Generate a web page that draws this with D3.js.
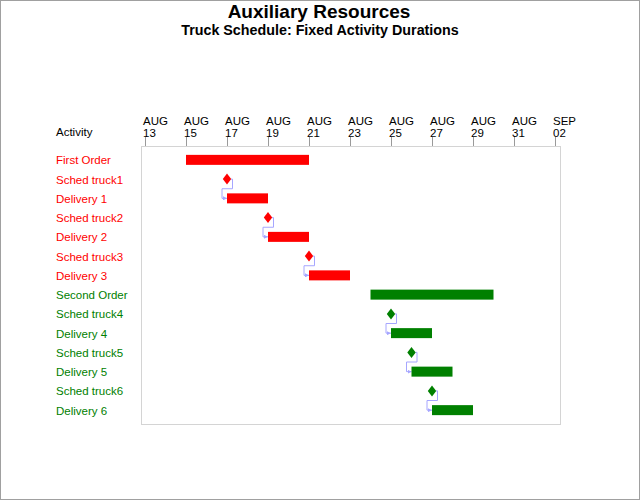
<!DOCTYPE html>
<html><head><meta charset="utf-8">
<script src="https://cdn.jsdelivr.net/npm/d3@7"></script>
<style>body{margin:0;background:#fff}svg{display:block}text{font-family:"Liberation Sans",Arial,sans-serif}</style>
</head><body>
<svg id="c" width="640" height="500"></svg>
<script>
const activities = ["First Order","Sched truck1","Delivery 1","Sched truck2","Delivery 2","Sched truck3","Delivery 3",
  "Second Order","Sched truck4","Delivery 4","Sched truck5","Delivery 5","Sched truck6","Delivery 6"];
const startDates = ["2000-08-15","2000-08-17","2000-08-17","2000-08-19","2000-08-19","2000-08-21","2000-08-21",
  "2000-08-24","2000-08-25","2000-08-25","2000-08-26","2000-08-26","2000-08-27","2000-08-27"];
const finishDates = ["2000-08-21","2000-08-17","2000-08-19","2000-08-19","2000-08-21","2000-08-21","2000-08-23",
  "2000-08-30","2000-08-25","2000-08-27","2000-08-26","2000-08-28","2000-08-27","2000-08-29"];
const orderGroup = [1,1,1,1,1,1,1,2,2,2,2,2,2,2];
const linkFrom = ["Sched truck1","Sched truck2","Sched truck3","Sched truck4","Sched truck5","Sched truck6"];
const linkTo = ["Delivery 1","Delivery 2","Delivery 3","Delivery 4","Delivery 5","Delivery 6"];
const tickDates = ["2000-08-13","2000-08-15","2000-08-17","2000-08-19","2000-08-21","2000-08-23","2000-08-25",
  "2000-08-27","2000-08-29","2000-08-31","2000-09-02"];

const parse = d3.timeParse("%Y-%m-%d");
const groupColor = {1:"#ff0000", 2:"#008000"};
const labelColor = {1:"#ff0000", 2:"#008000"};

const svg = d3.select("#c");
const frame = {l:141, r:560, t:146, b:424};

svg.append("rect").attr("x",0.5).attr("y",0.5).attr("width",639).attr("height",499)
  .attr("fill","none").attr("stroke","#a0a0a0").attr("stroke-width",1);

svg.append("text").attr("x",319).attr("y",18).attr("text-anchor","middle")
  .attr("font-size",19).attr("font-weight","bold").text("Auxiliary Resources");
svg.append("text").attr("x",320).attr("y",35).attr("text-anchor","middle")
  .attr("font-size",14.3).attr("font-weight","bold").text("Truck Schedule: Fixed Activity Durations");

const x = d3.scaleTime().domain([parse(tickDates[0]), parse(tickDates[tickDates.length-1])]).range([145,555]);
const y = d3.scalePoint().domain(activities).range([frame.t, frame.b]).padding(0.72);

svg.append("rect").attr("x",frame.l+0.5).attr("y",frame.t+0.5)
  .attr("width",frame.r-frame.l).attr("height",frame.b-frame.t)
  .attr("fill","none").attr("stroke","#d4d4d4");

// ticks
const ticks = tickDates.map(parse);
const tg = svg.append("g");
ticks.forEach(t => {
  const tx = Math.round(x(t)) + 0.5;
  tg.append("line").attr("x1",tx).attr("x2",tx).attr("y1",frame.t-9).attr("y2",frame.t)
    .attr("stroke","#9a9a9a");
  const txt = tg.append("text").attr("x",x(t)-2).attr("font-size",11.5).attr("fill","#000");
  txt.append("tspan").attr("x",x(t)-2).attr("y",125).text(d3.timeFormat("%b")(t).toUpperCase());
  txt.append("tspan").attr("x",x(t)-2).attr("y",137).text(d3.timeFormat("%d")(t));
});

svg.append("text").attr("x",56).attr("y",136).attr("font-size",11.5).text("Activity");

// row labels
svg.append("g").selectAll("text").data(activities).join("text")
  .attr("x",56).attr("y",d=>y(d)+4.5).attr("font-size",11.5)
  .attr("fill",(d,i)=>labelColor[orderGroup[i]]).text(d=>d);

// links
const linkCol = "#a6a6ff";
svg.append("defs").append("marker").attr("id","arr").attr("viewBox","0 0 6 6")
  .attr("refX",6).attr("refY",3).attr("markerWidth",4).attr("markerHeight",4).attr("orient","auto")
  .append("path").attr("d","M0,0L6,3L0,6Z").attr("fill",linkCol);
const step = y.step();
linkFrom.forEach((f,i) => {
  const fi = activities.indexOf(f), ti = activities.indexOf(linkTo[i]);
  const x0 = x(parse(finishDates[fi])), y0 = y(f);
  const x1 = x(parse(startDates[ti])), y1 = y(linkTo[i]);
  const mid = y0 + step/2;
  const p = d3.path();
  p.moveTo(x0+4, y0); p.lineTo(x0+5.5, y0); p.lineTo(x0+5.5, mid);
  p.lineTo(x1-5, mid); p.lineTo(x1-5, y1); p.lineTo(x1, y1);
  svg.append("path").attr("d",p.toString()).attr("fill","none")
    .attr("stroke",linkCol).attr("stroke-width",1).attr("marker-end","url(#arr)");
});

// bars and milestones
const items = activities.map((a,i)=>({a, s:parse(startDates[i]), f:parse(finishDates[i]), g:orderGroup[i]}));
svg.append("g").selectAll("rect").data(items.filter(d=>+d.s!==+d.f)).join("rect")
  .attr("x",d=>x(d.s)).attr("width",d=>x(d.f)-x(d.s))
  .attr("y",d=>y(d.a)-5).attr("height",10)
  .attr("fill",d=>groupColor[d.g]);
svg.append("g").selectAll("path").data(items.filter(d=>+d.s===+d.f)).join("path")
  .attr("transform",d=>`translate(${x(d.s)},${y(d.a)})`)
  .attr("d","M0,-5.5L4.2,0L0,5.5L-4.2,0Z")
  .attr("fill",d=>groupColor[d.g]);
</script>
</body></html>
